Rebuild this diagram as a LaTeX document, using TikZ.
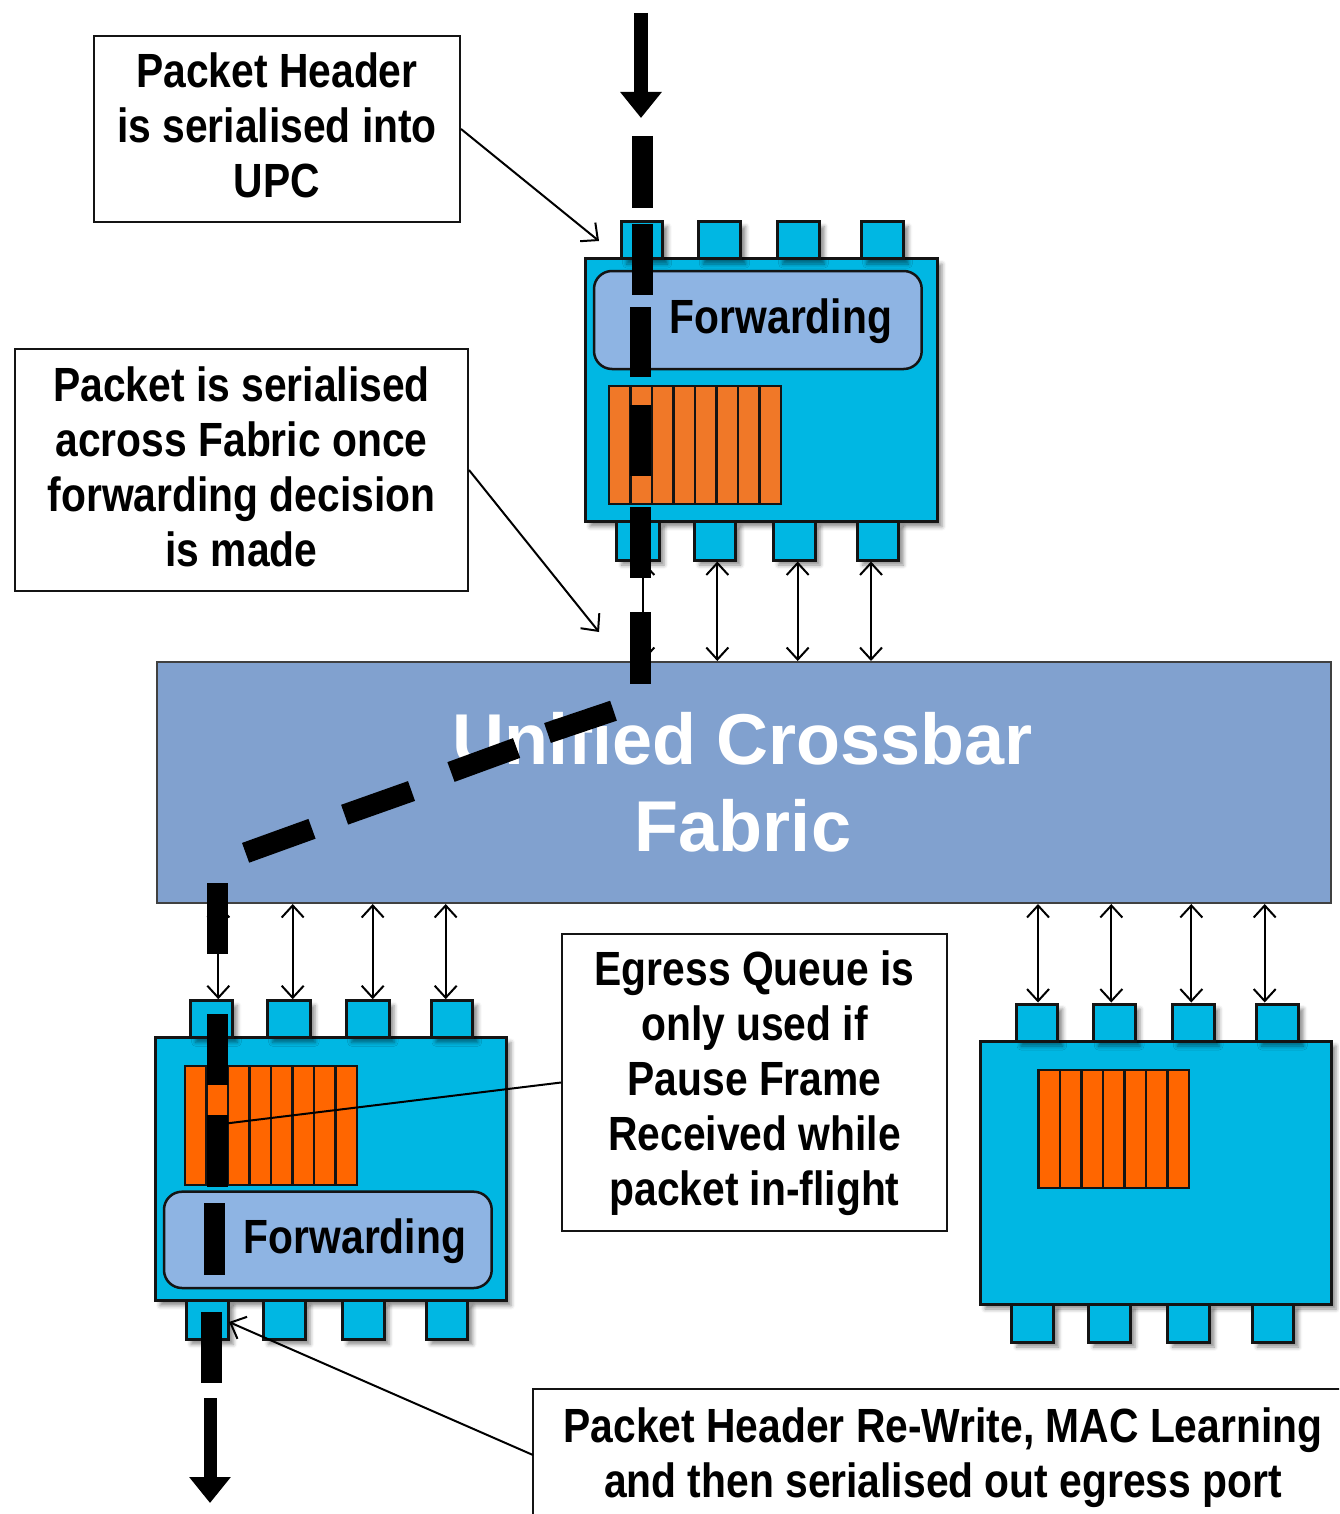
\documentclass[tikz,border=0pt]{standalone}
\usepackage{fontspec}
\setmainfont{Liberation Sans}
\newfontfamily\narrowbold[FakeStretch=0.85]{Liberation Sans}
\usetikzlibrary{arrows.meta,fit,shadows.blur}

\definecolor{cardc}{RGB}{0,183,227}
\definecolor{fwdc}{RGB}{142,180,227}
\definecolor{fabc}{RGB}{129,161,207}
\definecolor{queueA}{RGB}{240,120,40}
\definecolor{queueB}{RGB}{255,102,0}
\definecolor{edge}{RGB}{20,20,20}

\tikzset{
  softshadow/.style={blur shadow={shadow xshift=5pt, shadow yshift=-5pt,
      shadow blur radius=4pt, shadow opacity=45}},
  card/.style={fill=cardc, draw=edge, line width=3pt, inner sep=0pt, softshadow},
  port/.style={fill=cardc, draw=edge, line width=3pt, inner sep=0pt, softshadow},
  slot/.style={draw=edge, line width=2.5pt},
  fwd/.style={fill=fwdc, draw=edge, line width=2.5pt, rounded corners=18pt, inner sep=0pt},
  fwdtext/.style={font=\narrowbold\bfseries\fontsize{48}{55}\selectfont, anchor=base, inner sep=0pt},
  fabric/.style={fill=fabc, draw=black!75, line width=2pt, inner sep=0pt},
  link/.style={{Straight Barb[length=12pt,width=22pt]}-{Straight Barb[length=12pt,width=22pt]}, line width=2pt},
  note/.style={draw=edge, line width=2pt, fill=white, inner sep=0pt},
  notetext/.style={align=center, inner sep=0pt, anchor=base,
      font=\narrowbold\bfseries\fontsize{48}{55}\selectfont},
  callout/.style={-{Straight Barb[length=13pt,width=24pt]}, line width=2pt},
  pkt/.style={line width=21pt, line cap=butt, draw=black},
  bigarrow/.style={line width=14pt, draw=black, -{Triangle[length=26pt,width=40pt]}},
}

\begin{document}
\begin{tikzpicture}[x=1pt,y=-1pt]
\useasboundingbox (0,0) rectangle (1339,1514);
\clip (0,0) rectangle (1339,1514);

% ---------- ingress line card (top) ----------
\node[card, fit={(585,259) (937,521.7)}] (A) {};
\node[port, fit={(621.7,221.7) (662.7,259)}] (aT1) {};
\node[port, fit={(698.3,221.7) (740.7,259)}] (aT2) {};
\node[port, fit={(777.7,221.7) (819.3,259)}] (aT3) {};
\node[port, fit={(861.7,221.7) (903.3,259)}] (aT4) {};
\node[port, fit={(616.7,521.7) (659,560)}] (aB1) {};
\node[port, fit={(694.3,521.7) (735.7,560)}] (aB2) {};
\node[port, fit={(773.3,521.7) (815,560)}] (aB3) {};
\node[port, fit={(857.7,521.7) (898.3,560)}] (aB4) {};
\node[fwd, fit={(594,271) (921.7,369)}] (aF) {};
\node[fwdtext] (aFt) at (781,333) {Forwarding};
\foreach \i in {0,...,7}
  \filldraw[slot, fill=queueA] ({609+21.5*\i},386) rectangle ({630.5+21.5*\i},504);

% ---------- egress line card (bottom left) ----------
\node[card, fit={(155,1037.3) (506,1300.7)}] (B) {};
\node[port, fit={(190.7,1000.7) (232.3,1037.3)}] (bT1) {};
\node[port, fit={(267.7,1000.7) (310,1037.3)}] (bT2) {};
\node[port, fit={(346.7,1000.7) (389,1037.3)}] (bT3) {};
\node[port, fit={(431,1000.7) (472.7,1037.3)}] (bT4) {};
\node[port, fit={(186,1300.7) (228.3,1339.3)}] (bB1) {};
\node[port, fit={(263.3,1300.7) (305,1339.3)}] (bB2) {};
\node[port, fit={(342.3,1300.7) (384,1339.3)}] (bB3) {};
\node[port, fit={(426,1300.7) (467.7,1339.3)}] (bB4) {};
\foreach \i in {0,...,7}
  \filldraw[slot, fill=queueB] ({185+21.5*\i},1066) rectangle ({206.5+21.5*\i},1185);
\node[fwd, fit={(164,1191.7) (491.7,1288)}] (bF) {};
\node[fwdtext] (bFt) at (355,1253) {Forwarding};

% ---------- third line card (bottom right) ----------
\node[card, fit={(980,1041) (1331,1304)}] (C) {};
\node[port, fit={(1016,1004) (1057.7,1041)}] (cT1) {};
\node[port, fit={(1093.3,1004) (1135,1041)}] (cT2) {};
\node[port, fit={(1172.3,1004) (1214,1041)}] (cT3) {};
\node[port, fit={(1256.7,1004) (1298.3,1041)}] (cT4) {};
\node[port, fit={(1011.7,1304) (1053.3,1342)}] (cB1) {};
\node[port, fit={(1088.3,1304) (1130,1342)}] (cB2) {};
\node[port, fit={(1167.7,1304) (1209.3,1342)}] (cB3) {};
\node[port, fit={(1252.3,1304) (1293.3,1342)}] (cB4) {};
\foreach \i in {0,...,6}
  \filldraw[slot, fill=queueB] ({1038.5+21.5*\i},1070) rectangle ({1060+21.5*\i},1188);

% ---------- crossbar fabric ----------
\node[fabric, fit={(157,662) (1331,903)}] (fab) {};
\node[font=\bfseries\fontsize{72}{87}\selectfont, text=white, align=center, inner sep=0pt]
  (fabl) at (743,782.5) {Unified Crossbar\\Fabric};

% ---------- fabric links ----------
\foreach \n/\x in {aB1/643.3, aB2/717.3, aB3/797.7, aB4/871}{
  \coordinate (lx) at (\x,0);
  \draw[link] (\n.south -| lx) -- (fab.north -| lx);
}
\foreach \n/\x in {bT1/218.3, bT2/292.7, bT3/372.7, bT4/445.7}{
  \coordinate (lx) at (\x,0);
  \draw[link] (fab.south -| lx) -- (\n.north -| lx);
}
\foreach \n/\x in {cT1/1038, cT2/1111.3, cT3/1191.3, cT4/1264.7}{
  \coordinate (lx) at (\x,0);
  \draw[link] (fab.south -| lx) -- (\n.north -| lx);
}

% ---------- annotations ----------
\node[note, fit={(94,36) (460,222)}] (n1) {};
\node[notetext] (n1t) at (277,198) {Packet Header\\is serialised into\\UPC};
\node[note, fit={(15,349) (468,591)}] (n2) {};
\node[notetext] (n2t) at (241.5,566) {Packet is serialised\\across Fabric once\\forwarding decision\\is made};
\node[note, fit={(562,934) (947,1231)}] (n3) {};
\node[notetext] (n3t) at (754.5,1205) {Egress Queue is\\only used if\\Pause Frame\\Received while\\packet in-flight};
\node[note, fit={(533,1389) (1352,1530)}] (n4) {};
\node[notetext] (n4t) at (943,1497) {Packet Header Re-Write, MAC Learning\\and then serialised out egress port};

\coordinate (t1) at (599,241);
\coordinate (t2) at (599,632);
\coordinate (t3) at (226,1123.5);
\coordinate (t4) at (229,1322);
\coordinate (n4w) at (533,1455);
\draw[callout] (n1.east) -- (t1);
\draw[callout] (n2.east) -- (t2);
\draw[line width=2pt] (n3.west) -- (t3);
\draw[callout] (n4w) -- (t4);

% ---------- packet path ----------
\draw[bigarrow] (641,13) -- (641,118);
\draw[pkt] (642.3,136) -- (642.3,208);
\draw[pkt] (642.3,224) -- (642.3,295);
\draw[pkt] (640,307) -- (640,377);
\draw[pkt] (640,405) -- (640,476);
\draw[pkt] (640,507) -- (640,578);
\draw[pkt] (640,612) -- (640,684);
\draw[pkt] (613.5,710.7) -- (547.5,733);
\draw[pkt] (516.6,748) -- (451,772);
\draw[pkt] (411.5,791) -- (344.6,814.7);
\draw[pkt] (312,828.8) -- (245.6,852.8);
\draw[pkt] (217,883) -- (217,954);
\draw[pkt] (217,1014) -- (217,1085);
\draw[pkt] (217,1115) -- (217,1187);
\draw[pkt] (214,1203) -- (214,1275);
\draw[pkt] (211,1312) -- (211,1383);
\draw[bigarrow, line width=13pt] (210,1398) -- (210,1503);
\end{tikzpicture}
\end{document}
